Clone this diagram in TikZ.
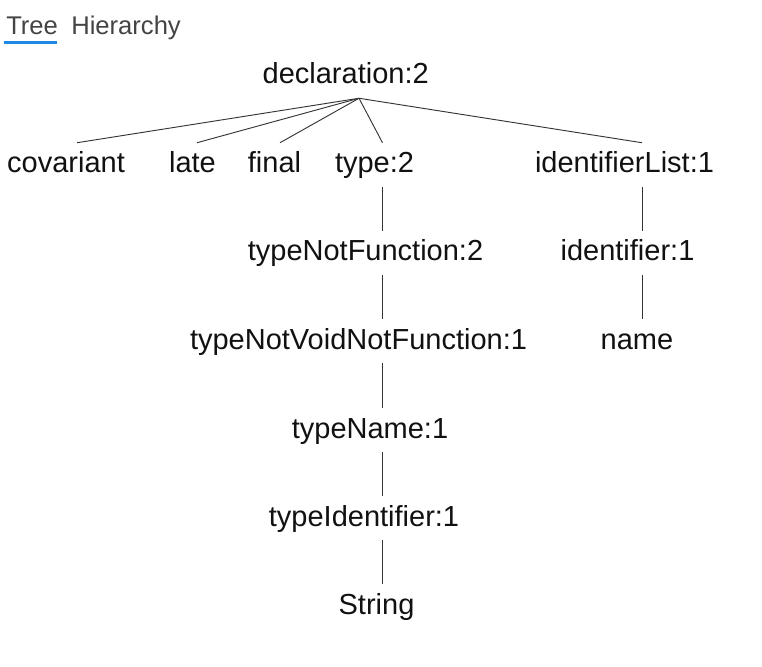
\documentclass[tikz,border=0pt]{standalone}
\usepackage{fontspec}
\setmainfont{Liberation Sans}
\usepackage{tikz}
\usetikzlibrary{calc}
\definecolor{ink}     {HTML}{111111}
\definecolor{tabink}  {HTML}{444444}
\definecolor{tabline} {HTML}{1E88E5}
\tikzset{
  % --- nodes
  tok/.style   = {font=\fontsize{21.75}{26}\selectfont, text=ink, inner sep=0pt,
                  text height=22.5pt, text depth=10.5pt, anchor=base},
  tab/.style   = {font=\fontsize{19.2}{23}\selectfont, text=tabink, inner sep=0pt,
                  anchor=base west},
  % --- edges
  e/.style     = {draw=ink!85, line width=0.7pt},
}

\begin{document}
\begin{tikzpicture}[x=0.75pt, y=-0.75pt]
  \useasboundingbox (0,0) rectangle (762,666);
  % tabs
  \node[tab] (tree) at (6,35)  {Tree};
  \node[tab] (hier) at (71,35) {Hierarchy};
  \fill[tabline] ($(tree.base west)+(-2,6)$) rectangle ($(tree.base west)+(51,9)$);
  % parse tree
  \node[tok] (decl)   at (345.7,84)  {declaration:2};
  \node[tok] (cov)    at (66,173)    {covariant};
  \node[tok] (late)   at (192.5,173) {late};
  \node[tok] (final)  at (274.5,173) {final};
  \node[tok] (type)   at (374.5,173) {type:2};
  \node[tok] (idlist) at (624.5,173) {identifierList:1};
  \node[tok] (tnf)    at (365.5,261) {typeNotFunction:2};
  \node[tok] (ident)  at (627.5,261) {identifier:1};
  \node[tok] (tnvnf)  at (358.5,349) {typeNotVoidNotFunction:1};
  \node[tok] (name)   at (637,349)   {name};
  \node[tok] (tname)  at (370,438)   {typeName:1};
  \node[tok] (tident) at (364,526)   {typeIdentifier:1};
  \node[tok] (str)    at (376.5,614) {String};
  \coordinate (hub)  at ($(decl.south)+(13.3,0)$);
  \coordinate (colA) at (382.5,0);
  \coordinate (colB) at (642,0);
  \foreach \kid/\dx in {cov/11, late/4.5, final/5.5, type/8, idlist/17.5}
    \draw[e] (hub) -- ($(\kid.north)+(\dx,0)$);
  \foreach \a/\b in {type/tnf, tnf/tnvnf, tnvnf/tname, tname/tident, tident/str}
    \draw[e] (\a.south -| colA) -- (\b.north -| colA);
  \foreach \a/\b in {idlist/ident, ident/name}
    \draw[e] (\a.south -| colB) -- (\b.north -| colB);
\end{tikzpicture}
\end{document}
